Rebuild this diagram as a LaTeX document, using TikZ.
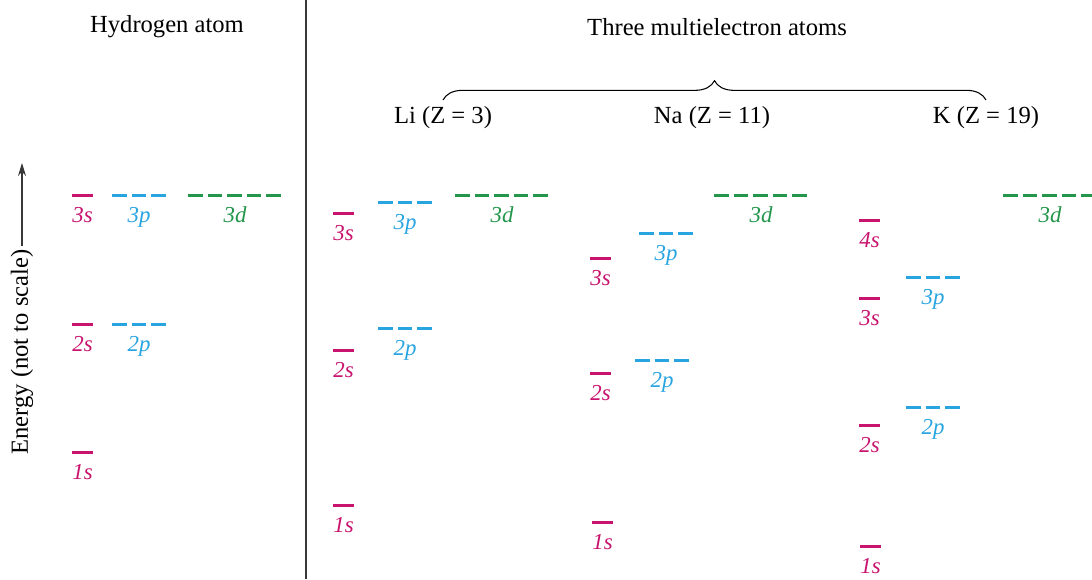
\documentclass[tikz,border=0pt]{standalone}
\usepackage{fontspec}
\setmainfont{Liberation Serif}
\usetikzlibrary{arrows.meta, decorations.pathreplacing}
\definecolor{scol}{RGB}{200,20,110}
\definecolor{pcol}{RGB}{40,165,225}
\definecolor{dcol}{RGB}{35,150,75}
\definecolor{rulecol}{RGB}{55,55,55}

\begin{document}
\begin{tikzpicture}[
  x=0.02cm, y=-0.02cm,
  head/.style={font=\fontsize{14}{16}\selectfont, inner sep=2pt},
  lbl/.style={font=\fontsize{13}{15}\selectfont\itshape, anchor=base, inner sep=1pt},
  sorb/.style={scol, line width=1.7pt},
  porb/.style={pcol, line width=1.7pt, dash pattern=on 8.3pt off 2.8pt},
  dorb/.style={dcol, line width=1.7pt, dash pattern=on 8.3pt off 2.8pt},
  divider/.style={rulecol, line width=1.4pt},
  arr/.style={-{Stealth[length=2.6mm, width=1.6mm]}, rulecol, line width=0.6pt},
  brace/.style={decorate, decoration={brace, amplitude=11pt}, line width=0.6pt}
 ]
\useasboundingbox[fill=white] (0,0) rectangle (1092,579);

% headings
\node[head] (hyd)   at (167,27)  {Hydrogen atom};
\node[head] (multi) at (717,27)  {Three multielectron atoms};
\node[head] (li)    at (443,118) {Li (Z = 3)};
\node[head] (na)    at (712,118) {Na (Z = 11)};
\node[head] (k)     at (986,118) {K (Z = 19)};
\draw[brace] (li |- 0,100) -- (k |- 0,100);

\draw[divider] (306,0) -- (306,579);

% energy axis
\node[head, rotate=90] (energy) at (22,352) {Energy (not to scale)};
\draw[arr] (energy.east) -- (energy.east |- 0,163);

% levels: name/type/left x/y/width/label
\foreach \nm/\o/\x/\y/\w/\t in {
    H3s/s/72/195/21/3s, H3p/p/112/195/54/3p, H3d/d/188/195/94/3d,
    H2s/s/72/324/21/2s, H2p/p/112/324/54/2p, H1s/s/72/452/21/1s,
    Li3s/s/333/213/21/3s, Li3p/p/378/202/54/3p, Li3d/d/455/195/94/3d,
    Li2s/s/333/350/21/2s, Li2p/p/378/328/54/2p, Li1s/s/333/505/21/1s,
    Na3s/s/590/258/21/3s, Na3p/p/639/233/54/3p, Na3d/d/714/195/94/3d,
    Na2s/s/590/373/21/2s, Na2p/p/635/360/54/2p, Na1s/s/592/522/21/1s,
    K4s/s/859/220/21/4s, K3s/s/859/298/21/3s, K3p/p/906/277/54/3p,
    K3d/d/1003/195/94/3d, K2s/s/859/425/21/2s, K2p/p/906/407/54/2p,
    K1s/s/860/546/21/1s}
{
  \draw[\o orb] (\x,\y) -- ++(\w,0);
  \node[lbl, text=\o col] (\nm) at ({\x+\w/2},{\y+27}) {\t};
}
\end{tikzpicture}
\end{document}
